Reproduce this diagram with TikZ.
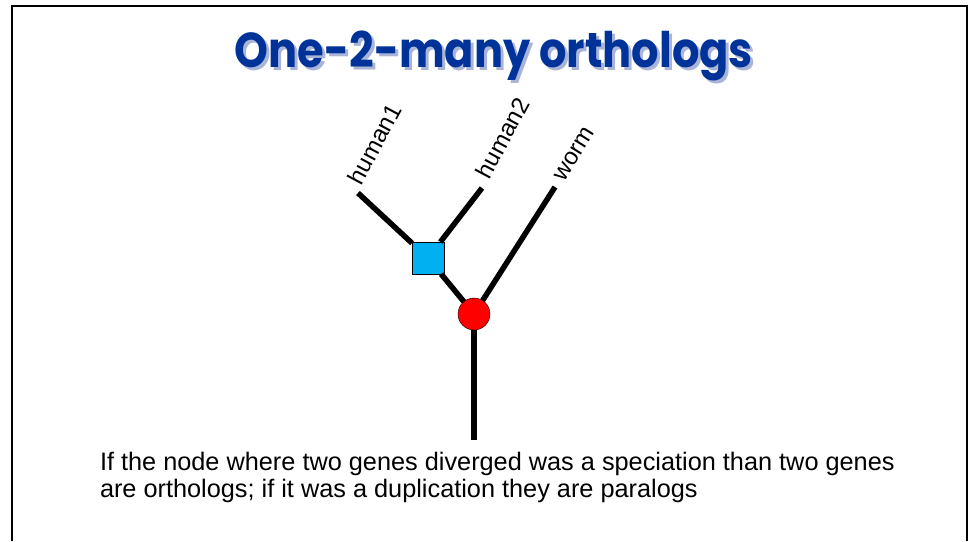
\documentclass[tikz,border=0pt]{standalone}
\usepackage{fontspec}
\setmainfont{Liberation Sans}
\newfontfamily\titlefont[FakeStretch=0.88]{Poppins}
\usetikzlibrary{positioning}

\definecolor{titleblue}{RGB}{0,51,153}
\definecolor{shadowblue}{RGB}{170,180,215}
\definecolor{dupblue}{RGB}{0,176,240}
\definecolor{specred}{RGB}{255,0,0}

\begin{document}
\begin{tikzpicture}[
      x=1pt,y=-1pt,
      every node/.style={inner sep=0pt,outer sep=0pt},
      branch/.style={line width=5.5pt},
      leaflabel/.style={anchor=west,rotate=62,font=\fontsize{24}{28}\selectfont},
      titletext/.style={anchor=base,font=\titlefont\bfseries\fontsize{49}{55}\selectfont}
    ]
      \useasboundingbox (0,0) rectangle (972,541);
      % slide frame (bottom edge runs off the page)
      \draw[line width=2.5pt] (12,541)--(12,6)--(967,6)--(967,541);
      \node[titletext,text=shadowblue] (shadow) at (497,70) {One-2-many orthologs};
      \node[titletext,text=titleblue] (title) at (494,67) {One-2-many orthologs};
      % tree
      \coordinate (root) at (474,440);
      \coordinate (h1) at (358,193);
      \coordinate (h2) at (482,188);
      \coordinate (worm) at (555,187);
      \node[circle,draw,thin,fill=specred,minimum size=32pt] (spec) at (474,314) {};
      \node[draw,thin,fill=dupblue,minimum size=32pt] (dup) at (428,258) {};
      \draw[branch] (root)--(spec);
      \draw[branch] (spec)--(dup);
      \draw[branch] (spec)--(worm);
      \draw[branch] (dup)--(h1);
      \draw[branch] (dup)--(h2);
      \node[leaflabel] (h1lab) at ([xshift=-4,yshift=11]h1) {human1};
      \node[leaflabel] (h2lab) at ([xshift=0,yshift=12]h2) {human2};
      \node[leaflabel,rotate=-4] (wormlab) at ([xshift=4,yshift=8]worm) {worm};
      \node[anchor=base west,align=left,font=\fontsize{25.3}{27}\selectfont] (note) at (100,497)
        {If the node where two genes diverged was a speciation than two genes\\are orthologs; if it was a duplication they are paralogs};
    \end{tikzpicture}
\end{document}
